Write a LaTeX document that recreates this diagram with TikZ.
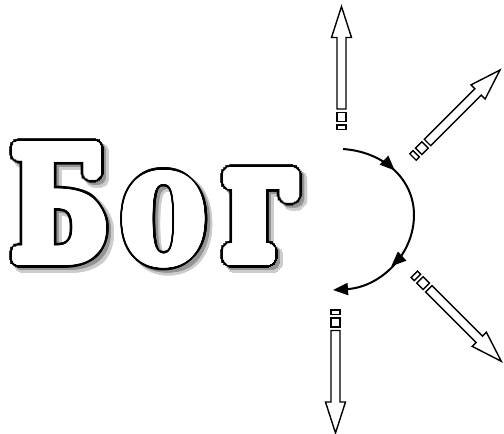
\documentclass[tikz,border=0pt]{standalone}
\usepackage{fontspec}
\usepackage{graphicx}
\usetikzlibrary{arrows.meta,decorations.markings,calc}
\newfontfamily\bogfont{DejaVu Serif}
\newcommand\letterbox[3]{\resizebox{#1pt}{#2pt}{\bogfont\bfseries #3}}
\tikzset{
  barrow/.style={draw=black,fill=white,line width=1.4pt,line join=miter},
  curvearrow/.style={line width=2pt,-{Triangle[length=15pt,width=12pt]}},
  bogcopy/.style={anchor=base west,inner sep=0pt,outer sep=0pt}
}
% letters: x, baseline y, box width, box height, glyph, dilation radius
\newcommand\bogletters{12.4/260.4/95/113.8/Б/5,119.6/263.4/88.5/90.8/о/2,225.4/259.4/76/85.8/г/6}
% one layer of the dilated letters: colour, offset, extra radius, factor of r
\newcommand\boglayer[4]{%
  \foreach \lx/\ly/\lw/\lh/\ch/\lr in \bogletters{%
    \pgfmathsetmacro\rad{#4*\lr+#3}%
    \foreach \a in {0,15,...,345}{%
      \node[bogcopy,text=#1] at ($(\lx,\ly)+#2+(\a:\rad)$) {\letterbox{\lw}{\lh}{\ch}};
    }%
  }}
\newcommand\blockarrow[2]{%
  \begin{scope}[shift={#1},rotate=#2]
    \draw[barrow] (0,-4.5) rectangle (4.5,4.5);
    \draw[barrow] (8,-4.5) rectangle (17,4.5);
    \draw[barrow] (20.5,-4.5) -- (92,-4.5) -- (92,-10) -- (123,0) -- (92,10) -- (92,4.5) -- (20.5,4.5) -- cycle;
  \end{scope}}
\begin{document}
\begin{tikzpicture}[x=1pt,y=-1pt]
\useasboundingbox (0,0) rectangle (504,434);
% shadow
\boglayer{black!20}{(5,5)}{3}{1}
\boglayer{black!42}{(3.5,3.5)}{2}{1}
% black outline
\boglayer{black}{(0,0)}{2.6}{1}
\boglayer{black}{(0,0)}{1.3}{1}
% white body
\boglayer{white}{(0,0)}{0}{1}
\boglayer{white}{(0,0)}{0}{0.66}
\boglayer{white}{(0,0)}{0}{0.33}
\foreach \lx/\ly/\lw/\lh/\ch/\lr in \bogletters{%
  \node[bogcopy,text=white] at (\lx,\ly) {\letterbox{\lw}{\lh}{\ch}};
}
% block arrows
\blockarrow{(341.5,129.5)}{90}
\blockarrow{(335.5,310)}{-90}
\blockarrow{(413,157)}{45}
\blockarrow{(414.3,274.3)}{-45}
% curved arrow
\coordinate (cs) at (343,149);
\coordinate (cm) at (414,215);
\coordinate (ce) at (333,290);
\draw[curvearrow,
  decoration={markings,
    mark=at position 0.25 with {\arrow{Triangle[length=15pt,width=12pt]}},
    mark=at position 0.72 with {\arrow{Triangle[length=15pt,width=12pt]}}},
  postaction={decorate}]
  (cs) .. controls (385,152) and (414,180) .. (cm) .. controls (414,255) and (380,287) .. (ce);
\end{tikzpicture}
\end{document}
